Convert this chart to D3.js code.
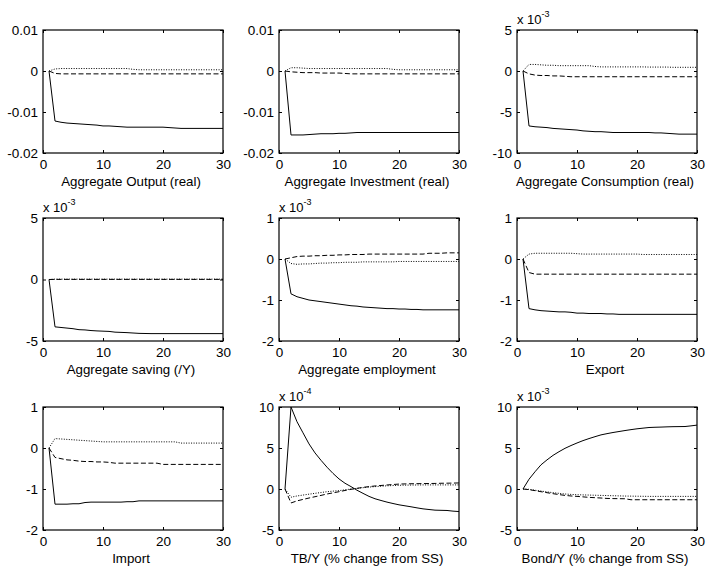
<!DOCTYPE html>
<html>
<head>
<meta charset="utf-8">
<script src="https://cdnjs.cloudflare.com/ajax/libs/d3/7.8.5/d3.min.js"></script>
<style>
body { margin: 0; background: #fff; }
svg text { font-family: "Liberation Sans", Arial, sans-serif; fill: #000; }
</style>
</head>
<body>
<div id="chart"></div>
<script>
var w = 706, h = 569;

// horizon (periods 1..30)
var periods = [1,2,3,4,5,6,7,8,9,10,11,12,13,14,15,16,17,18,19,20,21,22,23,24,25,26,27,28,29,30];

var titles = ['Aggregate Output (real)', 'Aggregate Investment (real)', 'Aggregate Consumption (real)',
  'Aggregate saving (/Y)', 'Aggregate employment', 'Export',
  'Import', 'TB/Y (% change from SS)', 'Bond/Y (% change from SS)'];

var yTicks = [[-0.02, -0.01, 0, 0.01], [-0.02, -0.01, 0, 0.01], [-10, -5, 0, 5],
  [-5, 0, 5], [-2, -1, 0, 1], [-2, -1, 0, 1],
  [-2, -1, 0, 1], [-5, 0, 5, 10], [-5, 0, 5, 10]];
var xTicks = [0, 10, 20, 30];

// exponent shown above the axis (values below are in those units)
var exponents = [null, null, -3, -3, -3, null, null, -4, -3];

var outputSolid  = [0,-0.0122,-0.0125,-0.0127,-0.0128,-0.0129,-0.0130,-0.0131,-0.0132,-0.0134,-0.0134,-0.0135,-0.0136,-0.0137,-0.0137,-0.0137,-0.0137,-0.0137,-0.0137,-0.0137,-0.0138,-0.0139,-0.0140,-0.0140,-0.0140,-0.0140,-0.0140,-0.0140,-0.0140,-0.0140];
var outputDashed = [0,-0.0006,-0.0007,-0.0007,-0.0007,-0.0007,-0.0007,-0.0007,-0.0007,-0.0007,-0.0007,-0.0007,-0.0007,-0.0007,-0.0007,-0.0007,-0.0007,-0.0007,-0.0007,-0.0007,-0.0007,-0.0007,-0.0007,-0.0007,-0.0007,-0.0007,-0.0007,-0.0007,-0.0007,-0.0007];
var outputDotted = [0,0.0005,0.0006,0.0006,0.0006,0.0006,0.0006,0.0006,0.0006,0.0006,0.0006,0.0006,0.0006,0.0006,0.0004,0.0003,0.0003,0.0003,0.0003,0.0003,0.0003,0.0003,0.0003,0.0003,0.0003,0.0003,0.0003,0.0003,0.0003,0.0003];

var investSolid  = [0,-0.0156,-0.0156,-0.0156,-0.0155,-0.0154,-0.0153,-0.0153,-0.0153,-0.0152,-0.0152,-0.0151,-0.0150,-0.0150,-0.0150,-0.0150,-0.0150,-0.0150,-0.0150,-0.0150,-0.0150,-0.0150,-0.0150,-0.0150,-0.0150,-0.0150,-0.0150,-0.0150,-0.0150,-0.0150];
var investDashed = [0,-0.0002,-0.0003,-0.0004,-0.0004,-0.0004,-0.0005,-0.0005,-0.0005,-0.0005,-0.0006,-0.0007,-0.0007,-0.0007,-0.0007,-0.0007,-0.0007,-0.0007,-0.0007,-0.0007,-0.0007,-0.0007,-0.0007,-0.0007,-0.0007,-0.0007,-0.0007,-0.0007,-0.0007,-0.0007];
var investDotted = [0,0.0008,0.0008,0.0007,0.0006,0.0006,0.0006,0.0006,0.0006,0.0006,0.0006,0.0006,0.0006,0.0006,0.0006,0.0006,0.0006,0.0006,0.0004,0.0003,0.0003,0.0003,0.0003,0.0003,0.0003,0.0003,0.0003,0.0003,0.0003,0.0003];

var consSolid  = [0,-6.7,-6.8,-6.85,-6.9,-7.0,-7.05,-7.1,-7.15,-7.2,-7.3,-7.35,-7.4,-7.4,-7.45,-7.5,-7.5,-7.5,-7.5,-7.5,-7.5,-7.5,-7.55,-7.55,-7.6,-7.65,-7.7,-7.7,-7.7,-7.7];
var consDashed = [0,-0.35,-0.5,-0.55,-0.55,-0.6,-0.6,-0.65,-0.7,-0.7,-0.7,-0.7,-0.7,-0.7,-0.7,-0.7,-0.7,-0.7,-0.7,-0.7,-0.7,-0.7,-0.7,-0.7,-0.7,-0.7,-0.7,-0.7,-0.7,-0.7];
var consDotted = [0,0.8,0.8,0.75,0.7,0.7,0.65,0.65,0.65,0.65,0.65,0.65,0.55,0.5,0.5,0.5,0.5,0.5,0.5,0.5,0.5,0.48,0.48,0.48,0.48,0.45,0.45,0.45,0.45,0.45];

var savSolid  = [0,-3.85,-3.9,-3.95,-4.0,-4.08,-4.1,-4.15,-4.18,-4.2,-4.22,-4.28,-4.3,-4.32,-4.35,-4.38,-4.39,-4.4,-4.4,-4.4,-4.4,-4.4,-4.4,-4.4,-4.4,-4.4,-4.4,-4.4,-4.4,-4.4];
var savDashed = [0,0.01,0.01,0.01,0.01,0.01,0.01,0.01,0.01,0.01,0.01,0.01,0.01,0.01,0.01,0.01,0.01,0.01,0.01,0.01,0.01,0.01,0.01,0.01,0.01,0.01,0.01,0.01,0.01,0.01];
var savDotted = [0,0.03,0.03,0.03,0.03,0.03,0.03,0.03,0.03,0.03,0.03,0.03,0.03,0.03,0.03,0.03,0.03,0.03,0.03,0.03,0.03,0.03,0.03,0.03,0.03,0.03,0.03,0.03,0.03,0.03];

var empSolid  = [0,-0.85,-0.92,-0.96,-1.0,-1.02,-1.04,-1.06,-1.08,-1.1,-1.12,-1.14,-1.15,-1.17,-1.18,-1.19,-1.2,-1.21,-1.21,-1.22,-1.22,-1.23,-1.23,-1.24,-1.24,-1.24,-1.24,-1.24,-1.24,-1.24];
var empDashed = [0,0.03,0.06,0.07,0.07,0.08,0.08,0.09,0.09,0.1,0.1,0.11,0.11,0.11,0.12,0.12,0.12,0.12,0.12,0.12,0.12,0.12,0.12,0.12,0.14,0.14,0.14,0.15,0.15,0.15];
var empDotted = [0,-0.11,-0.13,-0.12,-0.12,-0.11,-0.1,-0.1,-0.09,-0.09,-0.08,-0.08,-0.08,-0.07,-0.07,-0.07,-0.07,-0.07,-0.07,-0.06,-0.06,-0.06,-0.06,-0.06,-0.06,-0.06,-0.06,-0.06,-0.06,-0.06];

var expSolid  = [0,-1.21,-1.24,-1.26,-1.27,-1.28,-1.29,-1.29,-1.3,-1.32,-1.32,-1.33,-1.33,-1.33,-1.34,-1.34,-1.35,-1.35,-1.35,-1.35,-1.35,-1.35,-1.35,-1.35,-1.35,-1.35,-1.35,-1.35,-1.35,-1.35];
var expDashed = [0,-0.33,-0.37,-0.37,-0.37,-0.37,-0.37,-0.37,-0.37,-0.37,-0.37,-0.37,-0.37,-0.37,-0.37,-0.37,-0.37,-0.37,-0.37,-0.37,-0.37,-0.37,-0.37,-0.37,-0.37,-0.37,-0.37,-0.37,-0.37,-0.37];
var expDotted = [0,0.12,0.14,0.14,0.14,0.14,0.14,0.14,0.14,0.13,0.12,0.12,0.12,0.12,0.12,0.12,0.12,0.12,0.12,0.12,0.11,0.11,0.11,0.11,0.11,0.11,0.11,0.11,0.11,0.11];

var impSolid  = [0,-1.37,-1.37,-1.37,-1.36,-1.36,-1.33,-1.32,-1.32,-1.32,-1.32,-1.32,-1.32,-1.31,-1.31,-1.29,-1.29,-1.29,-1.29,-1.29,-1.29,-1.29,-1.29,-1.29,-1.29,-1.29,-1.29,-1.29,-1.29,-1.29];
var impDashed = [0,-0.23,-0.26,-0.29,-0.3,-0.32,-0.33,-0.33,-0.34,-0.34,-0.35,-0.37,-0.37,-0.37,-0.37,-0.37,-0.37,-0.37,-0.37,-0.4,-0.4,-0.4,-0.4,-0.4,-0.4,-0.4,-0.4,-0.4,-0.4,-0.4];
var impDotted = [0,0.23,0.22,0.21,0.2,0.19,0.18,0.17,0.16,0.15,0.15,0.15,0.15,0.15,0.15,0.15,0.15,0.15,0.15,0.15,0.15,0.15,0.12,0.12,0.12,0.12,0.12,0.12,0.12,0.12];

var tbSolid  = [0,10.0,8.2,6.85,5.5,4.4,3.5,2.66,1.9,1.23,0.7,0.29,-0.15,-0.53,-0.9,-1.19,-1.4,-1.6,-1.77,-1.93,-2.05,-2.17,-2.3,-2.42,-2.5,-2.58,-2.6,-2.62,-2.7,-2.75];
var tbDashed = [0,-1.7,-1.45,-1.27,-1.1,-0.94,-0.78,-0.61,-0.47,-0.33,-0.18,-0.04,0.08,0.2,0.29,0.37,0.43,0.49,0.55,0.6,0.62,0.64,0.65,0.66,0.67,0.68,0.7,0.71,0.72,0.74];
var tbDotted = [0,-1.0,-0.85,-0.74,-0.63,-0.53,-0.43,-0.33,-0.26,-0.2,-0.1,0.0,0.08,0.16,0.23,0.29,0.34,0.39,0.42,0.45,0.47,0.48,0.49,0.5,0.5,0.5,0.5,0.5,0.5,0.5];

var bondSolid  = [0,1.19,2.1,2.95,3.55,4.1,4.55,4.96,5.3,5.61,5.9,6.15,6.38,6.6,6.75,6.89,7.01,7.13,7.24,7.34,7.42,7.5,7.53,7.55,7.58,7.6,7.61,7.62,7.7,7.79];
var bondDashed = [0,-0.08,-0.2,-0.33,-0.45,-0.57,-0.68,-0.78,-0.85,-0.9,-0.96,-1.02,-1.06,-1.1,-1.15,-1.17,-1.18,-1.19,-1.31,-1.31,-1.31,-1.31,-1.31,-1.31,-1.31,-1.31,-1.31,-1.31,-1.31,-1.31];
var bondDotted = [0,-0.04,-0.15,-0.25,-0.35,-0.45,-0.53,-0.61,-0.66,-0.7,-0.72,-0.74,-0.76,-0.78,-0.8,-0.82,-0.84,-0.86,-0.87,-0.88,-0.89,-0.9,-0.9,-0.9,-0.9,-0.9,-0.9,-0.9,-0.9,-0.9];

var panels = [
  [outputSolid, outputDashed, outputDotted],
  [investSolid, investDashed, investDotted],
  [consSolid, consDashed, consDotted],
  [savSolid, savDashed, savDotted],
  [empSolid, empDashed, empDotted],
  [expSolid, expDashed, expDotted],
  [impSolid, impDashed, impDotted],
  [tbSolid, tbDashed, tbDotted],
  [bondSolid, bondDashed, bondDotted]
];

var dashes = ['none', '5,2.5', '1,1.5'];

var colLeft = [43, 279, 517];
var rowTop = [30, 218, 407];
var boxW = 180, boxH = 123;

var svg = d3.select('#chart').append('svg')
  .attr('width', w)
  .attr('height', h);

svg.append('rect').attr('width', w).attr('height', h).attr('fill', '#fff');

panels.forEach(function(series, p) {
  var left = colLeft[p % 3], top = rowTop[Math.floor(p / 3)];
  var ticks = yTicks[p];

  var x = d3.scaleLinear().domain([0, 30]).range([left, left + boxW]);
  var y = d3.scaleLinear().domain([ticks[0], ticks[ticks.length - 1]]).range([top + boxH, top]);

  var g = svg.append('g');

  var fmt = function(d) { return d === 0 ? '0' : String(d); };

  // left + bottom with labels, top + right plain (box style, ticks inward)
  var ax = [
    g.append('g').attr('transform', 'translate(' + left + ',0)')
      .call(d3.axisLeft(y).tickValues(ticks).tickSizeInner(-3).tickSizeOuter(0).tickPadding(5).tickFormat(fmt)),
    g.append('g').attr('transform', 'translate(0,' + (top + boxH) + ')')
      .call(d3.axisBottom(x).tickValues(xTicks).tickSizeInner(-3).tickSizeOuter(0).tickPadding(6)),
    g.append('g').attr('transform', 'translate(' + (left + boxW) + ',0)')
      .call(d3.axisRight(y).tickValues(ticks).tickSizeInner(-3).tickSizeOuter(0).tickFormat('')),
    g.append('g').attr('transform', 'translate(0,' + top + ')')
      .call(d3.axisTop(x).tickValues(xTicks).tickSizeInner(-3).tickSizeOuter(0).tickFormat(''))
  ];
  ax.forEach(function(a) {
    a.select('.domain').remove();
    a.selectAll('line').attr('stroke', '#000');
    a.selectAll('text').style('font-size', '13.5px').attr('fill', '#000');
  });

  var line = d3.line()
    .x(function(d, i) { return x(periods[i]); })
    .y(function(d) { return y(d); });

  series.forEach(function(vals, s) {
    g.append('path')
      .datum(vals)
      .attr('d', line)
      .attr('fill', 'none')
      .attr('stroke', '#000')
      .attr('stroke-width', 1)
      .attr('stroke-dasharray', dashes[s]);
  });

  g.append('rect')
    .attr('x', left).attr('y', top)
    .attr('width', boxW).attr('height', boxH)
    .attr('fill', 'none').attr('stroke', '#000').attr('stroke-width', 1.2);

  g.append('text')
    .attr('x', left + boxW / 2 - 2)
    .attr('y', top + boxH + 33)
    .attr('text-anchor', 'middle')
    .style('font-size', '13.3px')
    .text(titles[p]);

  if (exponents[p] !== null) {
    var ex = g.append('text')
      .attr('x', left)
      .attr('y', top - 6)
      .style('font-size', '13px')
      .text('x 10');
    ex.append('tspan')
      .attr('dy', -7)
      .style('font-size', '9px')
      .text(String(exponents[p]));
  }
});
</script>
</body>
</html>
